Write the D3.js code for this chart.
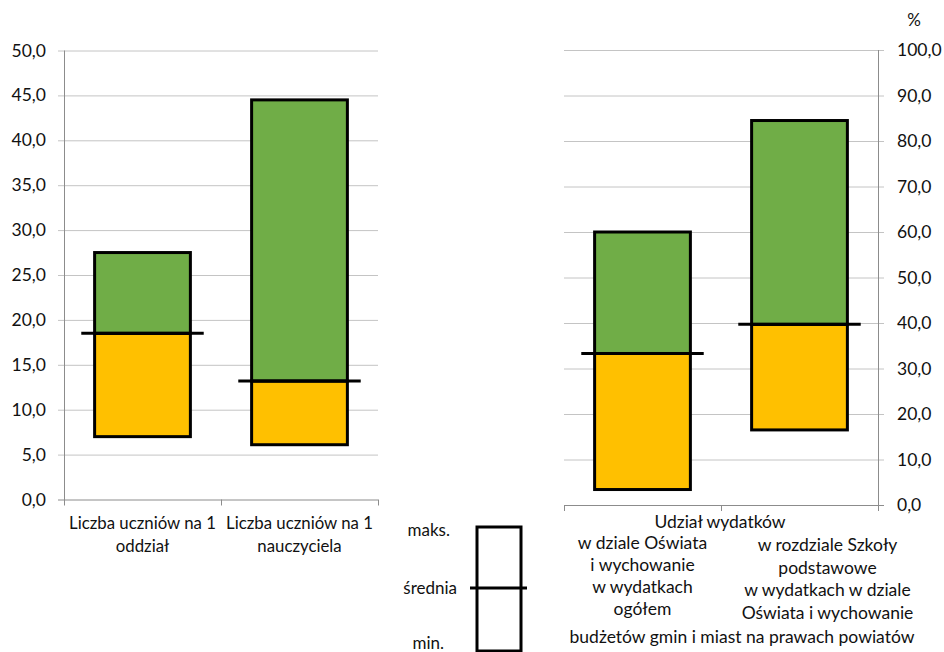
<!DOCTYPE html>
<html><head><meta charset="utf-8">
<script src="https://cdn.jsdelivr.net/npm/d3@7"></script>
<style>
body{margin:0;background:#fff;}
svg{display:block;font-family:Lato,"Open Sans",sans-serif;}
</style></head><body>
<svg id="c" width="944" height="652"></svg>
<script>
// ---- data ----
const leftCategories = ["Liczba uczniów na 1|oddział", "Liczba uczniów na 1|nauczyciela"];
const leftMin  = [7.0, 6.1];
const leftMean = [18.5, 13.2];
const leftMax  = [27.5, 44.5];
const leftTicks = [0,5,10,15,20,25,30,35,40,45,50];

const rightCategories = ["A","B"];
const rightMin  = [3.4, 16.5];
const rightMean = [33.3, 39.7];
const rightMax  = [60.0, 84.5];
const rightTicks = [0,10,20,30,40,50,60,70,80,90,100];

const rightTitle = "Udział wydatków";
const rightLabelA = ["w dziale Oświata","i wychowanie","w wydatkach","ogółem"];
const rightLabelB = ["w rozdziale  Szkoły","podstawowe","w wydatkach w dziale","Oświata i wychowanie"];
const rightFooter = "budżetów gmin i miast na prawach powiatów";
const legendLabels = ["maks.","średnia","min."];

const GREEN = "#70AD47", ORANGE = "#FFC000", GRID = "#c4c4c4", AXIS = "#8c8c8c";
const fmt = d => d.toFixed(1).replace(".", ",");

const svg = d3.select("#c");

function panel(opts){
  const {x0,x1,yTop,yBot,max,ticks,cats,mins,means,maxs,side} = opts;
  const y = d3.scaleLinear().domain([0,max]).range([yBot,yTop]);
  const x = d3.scaleBand().domain(cats).range([x0,x1]).padding(0);
  const g = svg.append("g");
  g.selectAll("line.grid").data(ticks).join("line")
    .attr("x1", side==="left"? x0-6 : x0).attr("x2", side==="left"? x1 : x1+6)
    .attr("y1", d=>y(d)+0.5).attr("y2", d=>y(d)+0.5)
    .attr("stroke", d=> d===0 ? AXIS : GRID).attr("stroke-width",1);
  const ax = side==="left"? x0 : x1;
  g.append("line").attr("x1",ax+0.5).attr("x2",ax+0.5).attr("y1",yTop).attr("y2",yBot+0.5).attr("stroke",AXIS);
  const bounds = [x0, ...cats.map(c=>x(c)+x.bandwidth())];
  g.selectAll("line.ct").data(bounds).join("line")
    .attr("x1",d=>d+0.5).attr("x2",d=>d+0.5).attr("y1",yBot).attr("y2",yBot+6).attr("stroke",AXIS);
  g.selectAll("text.tl").data(ticks).join("text")
    .attr("x", side==="left"? x0-18 : x1+19)
    .attr("y", d=>y(d)+6)
    .attr("text-anchor", side==="left"? "end":"start")
    .attr("font-size",17.5).attr("fill","#111")
    .text(fmt);
  const bw = x.bandwidth()*0.61, lw = x.bandwidth()*0.78;
  cats.forEach((c,i)=>{
    const cx = x(c)+x.bandwidth()/2;
    g.append("rect").attr("x",cx-bw/2).attr("width",bw)
      .attr("y",y(means[i])).attr("height",y(mins[i])-y(means[i]))
      .attr("fill",ORANGE).attr("stroke","#000").attr("stroke-width",3);
    g.append("rect").attr("x",cx-bw/2).attr("width",bw)
      .attr("y",y(maxs[i])).attr("height",y(means[i])-y(maxs[i]))
      .attr("fill",GREEN).attr("stroke","#000").attr("stroke-width",3);
    g.append("line").attr("x1",cx-lw/2).attr("x2",cx+lw/2)
      .attr("y1",y(means[i])).attr("y2",y(means[i]))
      .attr("stroke","#000").attr("stroke-width",3);
  });
  return {x,y};
}

const L = panel({x0:64,x1:378,yTop:50.5,yBot:499.5,max:50,ticks:leftTicks,cats:leftCategories,
  mins:leftMin,means:leftMean,maxs:leftMax,side:"left"});
const R = panel({x0:564,x1:878,yTop:50,yBot:505,max:100,ticks:rightTicks,cats:rightCategories,
  mins:rightMin,means:rightMean,maxs:rightMax,side:"right"});

leftCategories.forEach(c=>{
  const cx = L.x(c)+L.x.bandwidth()/2;
  c.split("|").forEach((t,j)=>{
    svg.append("text").attr("x",cx).attr("y",529+j*23).attr("text-anchor","middle")
      .attr("font-size",16.8).attr("fill","#111").text(t);
  });
});

svg.append("text").attr("x",914).attr("y",26).attr("text-anchor","middle").attr("font-size",17).attr("fill","#111").text("%");

const FS = 17.5;
svg.append("text").attr("x",720).attr("y",528).attr("text-anchor","middle").attr("font-size",FS).attr("fill","#111").text(rightTitle);
const cxA = R.x("A")+R.x.bandwidth()/2, cxB = R.x("B")+R.x.bandwidth()/2;
rightLabelA.forEach((t,j)=>svg.append("text").attr("x",cxA).attr("y",549+j*22).attr("text-anchor","middle").attr("font-size",FS).attr("fill","#111").text(t));
rightLabelB.forEach((t,j)=>svg.append("text").attr("x",cxB+28).attr("y",551+j*22.5).attr("text-anchor","middle").attr("font-size",FS).attr("fill","#111").text(t));
svg.append("text").attr("x",742).attr("y",643).attr("text-anchor","middle").attr("font-size",FS).attr("fill","#111").text(rightFooter);

const lg = svg.append("g");
lg.append("rect").attr("x",477).attr("y",527).attr("width",44).attr("height",124).attr("fill","#fff").attr("stroke","#000").attr("stroke-width",3);
lg.append("line").attr("x1",470).attr("x2",527).attr("y1",588).attr("y2",588).attr("stroke","#000").attr("stroke-width",3);
const ly = [536, 594, 649];
const lx = [450, 457, 444];
legendLabels.forEach((t,i)=>lg.append("text").attr("x",lx[i]).attr("y",ly[i]).attr("text-anchor","end").attr("font-size",17).attr("fill","#111").text(t));
</script>
</body></html>
